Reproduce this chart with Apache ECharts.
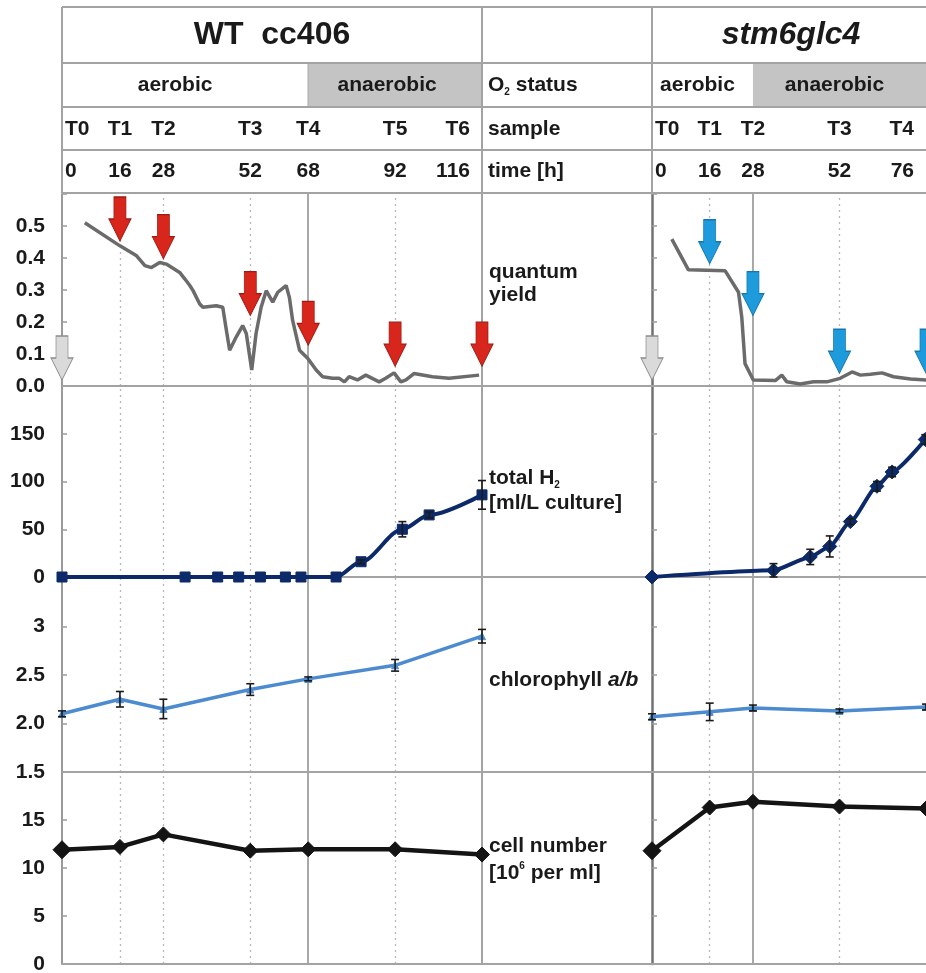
<!DOCTYPE html>
<html><head><meta charset="utf-8">
<script src="https://cdn.jsdelivr.net/npm/echarts@6/dist/echarts.min.js"></script>
<style>html,body{margin:0;padding:0;background:#fff}#c{width:926px;height:973px}</style>
</head><body><div id="c"></div>
<script>
// ---------- data ----------
const wtTimes = [0, 16, 28, 52, 68, 92, 116];
const wtSamples = ['T0', 'T1', 'T2', 'T3', 'T4', 'T5', 'T6'];
const stmTimes = [0, 16, 28, 52, 76];
const stmSamples = ['T0', 'T1', 'T2', 'T3', 'T4'];
const wtAnaerobicStart = 68;
const stmAnaerobicStart = 28;
const wtDotted = [16, 28, 52, 92];
const stmDotted = [16, 52];

const qyTicks = ['0.0', '0.1', '0.2', '0.3', '0.4', '0.5', ''];
const h2Ticks = ['0', '50', '100', '150', ''];
const chlTicks = ['1.5', '2.0', '2.5', '3', ''];
const cellTicks = ['0', '5', '10', '15', ''];

const wtQY = [[6.3,0.51],[16,0.438],[20.6,0.407],[22.9,0.376],[24.7,0.37],[27,0.386],[28.8,0.381],[32.5,0.355],[33.9,0.335],[35.3,0.314],[36.2,0.298],[38,0.257],[38.9,0.246],[42.6,0.251],[44.4,0.246],[45.4,0.174],[46.3,0.112],[48.1,0.153],[49.9,0.189],[50.9,0.164],[52.4,0.05],[53.6,0.164],[55,0.246],[56.4,0.298],[58.2,0.262],[59.6,0.293],[61.9,0.314],[62.8,0.277],[63.7,0.205],[65.6,0.112],[67.9,0.086],[70.2,0.05],[72,0.029],[74.7,0.024],[76.6,0.024],[78,0.013],[79.3,0.029],[81.6,0.019],[83.9,0.034],[87.6,0.013],[89.4,0.024],[91.7,0.041],[93.6,0.013],[95,0.019],[97.2,0.039],[102.3,0.029],[106.9,0.024],[115.2,0.034]];
const stmQY = [[5.5,0.459],[10.1,0.363],[20.3,0.36],[24,0.293],[24.9,0.215],[25.8,0.07],[28.1,0.019],[34.2,0.017],[36,0.034],[37.4,0.013],[41.1,0.006],[44.8,0.013],[48.5,0.013],[52.2,0.024],[55.5,0.044],[57.8,0.034],[60.6,0.037],[63.8,0.041],[67,0.029],[71.7,0.022],[76.1,0.019]];

const wtArrowTips = [[16,0.453],[28,0.398],[52,0.22],[68,0.127],[92,0.062],[116,0.062]];
const stmArrowTips = [[16,0.382],[28,0.22],[52,0.04],[76,0.04]];
const wtStartArrow = [[0,0.019]];
const stmStartArrow = [[0,0.019]];

const wtH2 = [[0,0],[34,0],[43,0],[48.8,0],[54.8,0],[61.7,0],[66,0],[75.7,0],[82.6,16],[94,50],[101.4,65],[116,86]];
const wtH2Err = [0,0,0,0,0,0,0,0,2,8,3,15];
const stmH2 = [[0,0],[33.7,7],[43.9,21],[49.3,32],[55,58],[62.4,95],[66.6,110],[75.8,144]];
const stmH2Err = [0,7,8,11,3,5,5,5];

const wtChl = [[0,2.1],[16,2.25],[28,2.15],[52,2.35],[68,2.46],[92,2.6],[116,2.9]];
const wtChlErr = [0.03,0.08,0.1,0.06,0.02,0.06,0.07];
const stmChl = [[0,2.07],[16,2.12],[28,2.16],[52,2.13],[76,2.17]];
const stmChlErr = [0.03,0.09,0.03,0.02,0.03];

const wtCell = [[0,11.9],[16,12.2],[28,13.5],[52,11.8],[68,11.95],[92,11.95],[116,11.4]];
const stmCell = [[0,11.8],[16,16.3],[28,16.9],[52,16.4],[76,16.2]];

// ---------- layout ----------
const FONT = '"Liberation Sans", Arial, Helvetica, sans-serif';
const rowTops = [194, 386, 578, 772];
const rowHeights = [192, 191, 194, 192];
const cols = [{ left: 62, width: 420, max: 116 }, { left: 652, width: 274, max: 76 }];
const yCfg = [
  { min: 0, max: 0.6, interval: 0.1, labels: qyTicks },
  { min: 0, max: 200, interval: 50, labels: h2Ticks },
  { min: 1.5, max: 3.5, interval: 0.5, labels: chlTicks },
  { min: 0, max: 20, interval: 5, labels: cellTicks }
];
const idx = (c, r) => c * 4 + r;

const grids = [], xAxes = [], yAxes = [];
for (let c = 0; c < 2; c++) for (let r = 0; r < 4; r++) {
  grids.push({ left: cols[c].left, width: cols[c].width, top: rowTops[r], height: rowHeights[r], outerBoundsMode: 'none', containLabel: false });
  xAxes.push({ type: 'value', gridIndex: idx(c, r), min: 0, max: cols[c].max, show: true,
    axisLine: { show: false }, axisTick: { show: false }, axisLabel: { show: false }, splitLine: { show: false } });
  const yc = yCfg[r];
  yAxes.push({ type: 'value', gridIndex: idx(c, r), min: yc.min, max: yc.max, interval: yc.interval,
    axisLine: { show: true, lineStyle: { color: c === 0 ? '#9a9a9a' : '#727272', width: c === 0 ? 2 : 2.5 } },
    axisTick: { show: true, inside: true, length: 5, lineStyle: { color: '#9a9a9a', width: 1.5 } },
    axisLabel: { show: c === 0, margin: 17, fontSize: 21, fontWeight: 'bold', color: '#1a1a1a', fontFamily: FONT,
      formatter: v => yc.labels[Math.round((v - yc.min) / yc.interval)] },
    splitLine: { show: false } });
}

function refSeries(c, r) {
  const dotted = c === 0 ? wtDotted : stmDotted;
  const solid = c === 0 ? wtAnaerobicStart : stmAnaerobicStart;
  const data = dotted.map(t => ({ xAxis: t, lineStyle: { type: [2, 4], color: '#b8b8b8', width: 1.3 } }));
  data.push({ xAxis: solid, lineStyle: { type: 'solid', color: '#8c8c8c', width: 1.5 } });
  return { type: 'line', xAxisIndex: idx(c, r), yAxisIndex: idx(c, r), data: [], z: 1, silent: true,
    markLine: { z: 1, silent: true, symbol: 'none', label: { show: false }, animation: false, data } };
}

function errSeries(c, r, vals, errs, w) {
  return { type: 'custom', xAxisIndex: idx(c, r), yAxisIndex: idx(c, r), z: 4, silent: true,
    data: vals.map((p, i) => [p[0], p[1] - errs[i], p[1] + errs[i]]).filter((d, i) => errs[i] > 0),
    renderItem: (params, api) => {
      const lo = api.coord([api.value(0), api.value(1)]);
      const hi = api.coord([api.value(0), api.value(2)]);
      const st = { stroke: '#1a1a1a', lineWidth: 1.6 };
      return { type: 'group', children: [
        { type: 'line', shape: { x1: lo[0], y1: lo[1], x2: hi[0], y2: hi[1] }, style: st },
        { type: 'line', shape: { x1: lo[0] - w, y1: lo[1], x2: lo[0] + w, y2: lo[1] }, style: st },
        { type: 'line', shape: { x1: hi[0] - w, y1: hi[1], x2: hi[0] + w, y2: hi[1] }, style: st }
      ] };
    } };
}

const ARROW = 'path://M5,0L17,0L17,22L22,22L11,44L0,22L5,22Z';
function arrowSeries(c, data, color, border) {
  return { type: 'scatter', xAxisIndex: idx(c, 0), yAxisIndex: idx(c, 0), data, z: 6, silent: true,
    symbol: ARROW, symbolSize: [22, 44], symbolOffset: [0, '-50%'], clip: false,
    itemStyle: { color, borderColor: border, borderWidth: 1, opacity: 1 } };
}

function lineSeries(c, r, data, color, width, symbol, size, extra) {
  return Object.assign({ type: 'line', xAxisIndex: idx(c, r), yAxisIndex: idx(c, r), data, z: 3,
    symbol, symbolSize: size, showSymbol: symbol !== 'none', silent: true,
    lineStyle: { color, width }, itemStyle: { color, borderColor: color, borderWidth: 1, opacity: 1 } }, extra || {});
}

const series = [];
for (let c = 0; c < 2; c++) for (let r = 0; r < 4; r++) series.push(refSeries(c, r));
series.push(lineSeries(0, 0, wtQY, '#6b6b6b', 3.5, 'none', 0));
series.push(lineSeries(1, 0, stmQY, '#6b6b6b', 3.5, 'none', 0));
series.push(arrowSeries(0, wtArrowTips, '#d9261c', '#9c1a12'));
series.push(arrowSeries(1, stmArrowTips, '#1d9bdc', '#1677ad'));
series.push(arrowSeries(0, wtStartArrow, '#dadada', '#8c8c8c'));
series.push(arrowSeries(1, stmStartArrow, '#dadada', '#8c8c8c'));
series.push(lineSeries(0, 1, wtH2, '#0c2a6a', 4, 'rect', 10, { smooth: 0.3, smoothMonotone: 'x' }));
series.push(errSeries(0, 1, wtH2, wtH2Err, 4));
series.push(lineSeries(1, 1, stmH2, '#0c2a6a', 4, 'diamond', 14, { smooth: 0.2, smoothMonotone: 'x' }));
series.push(errSeries(1, 1, stmH2, stmH2Err, 4));
series.push(lineSeries(0, 2, wtChl, '#4c8bcf', 3.5, 'triangle', 7));
series.push(errSeries(0, 2, wtChl, wtChlErr, 4));
series.push(lineSeries(1, 2, stmChl, '#4c8bcf', 3.5, 'triangle', 7));
series.push(errSeries(1, 2, stmChl, stmChlErr, 4));
series.push(lineSeries(0, 3, wtCell, '#141414', 4.5, 'diamond', (v, p) => p.dataIndex === 0 ? 18 : 15));
series.push(lineSeries(1, 3, stmCell, '#141414', 4.5, 'diamond', (v, p) => p.dataIndex === 0 ? 18 : 15));

const chart = echarts.init(document.getElementById('c'), null, { renderer: 'canvas' });
chart.setOption({ animation: false, backgroundColor: '#fff', textStyle: { fontFamily: FONT },
  grid: grids, xAxis: xAxes, yAxis: yAxes, series });

// ---------- table / header graphics ----------
const px = (c, t) => chart.convertToPixel({ xAxisIndex: idx(c, 0) }, t);
const L = 62, R = 926, MID = 482, S = 652;
const headY = [7, 63, 107, 150, 193];
const bottom = rowTops[3] + rowHeights[3];
const LC = '#a3a3a3';
const g = [];
const line = (x1, y1, x2, y2, stroke, w, z) => g.push({ type: 'line', z: z || 1, silent: true, shape: { x1, y1, x2, y2 }, style: { stroke, lineWidth: w } });
const txt = (x, y, text, opt) => g.push({ type: 'text', z: 8, silent: true, x, y,
  style: Object.assign({ text, fill: '#1a1a1a', font: 'bold 21px ' + FONT, textAlign: 'left', textVerticalAlign: 'middle' }, opt || {}) });

// anaerobic fills
const wtAn = px(0, wtAnaerobicStart), stmAn = px(1, stmAnaerobicStart);
g.push({ type: 'rect', z: 0, silent: true, shape: { x: wtAn, y: headY[1], width: MID - wtAn, height: headY[2] - headY[1] }, style: { fill: '#c4c4c4' } });
g.push({ type: 'rect', z: 0, silent: true, shape: { x: stmAn, y: headY[1], width: R - stmAn, height: headY[2] - headY[1] }, style: { fill: '#c4c4c4' } });
line(wtAn, headY[1], wtAn, headY[2], '#b5b5b5', 1.5);
// horizontal lines
headY.forEach(y => line(L, y, R, y, LC, 2));
rowTops.forEach((t, r) => line(L, t + rowHeights[r], R, t + rowHeights[r], LC, 2.2));
// vertical lines
line(L, headY[0], L, headY[4], LC, 2);
line(MID, headY[0], MID, bottom, LC, 2);
line(S, headY[0], S, headY[4], LC, 2);

// titles
txt((L + MID) / 2, 35, 'WT  cc406', { font: 'bold 32px ' + FONT, textAlign: 'center' });
txt(791, 35, 'stm6glc4', { font: 'italic bold 32px ' + FONT, textAlign: 'center' });
// O2 status row
const rowC = [85, 129, 171];
txt((L + wtAn) / 2 - 10, rowC[0], 'aerobic', { textAlign: 'center' });
txt((wtAn + MID) / 2 - 8, rowC[0], 'anaerobic', { textAlign: 'center' });
txt((S + stmAn) / 2 - 5, rowC[0], 'aerobic', { textAlign: 'center' });
txt((stmAn + R) / 2 - 5, rowC[0], 'anaerobic', { textAlign: 'center' });
g.push({ type: 'text', z: 8, silent: true, x: 488, y: rowC[0], style: { textVerticalAlign: 'middle', textAlign: 'left',
  text: '{a|O}{s|2}{a| status}', rich: { a: { font: 'bold 21px ' + FONT, fill: '#1a1a1a', lineHeight: 24 },
    s: { font: 'bold 10px ' + FONT, fill: '#1a1a1a', lineHeight: 12, verticalAlign: 'bottom' } } } });
txt(488, rowC[1], 'sample');
txt(488, rowC[2], 'time [h]');
// sample / time labels from arrays
function axisRow(c, times, labels, y) {
  times.forEach((t, i) => {
    const x = px(c, t);
    let align = 'center', xx = x;
    if (i === 0) { align = 'left'; xx = x + 3; }
    else if (i === times.length - 1) { align = 'right'; xx = x - 12; }
    txt(xx, y, String(labels[i]), { textAlign: align });
  });
}
axisRow(0, wtTimes, wtSamples, rowC[1]);
axisRow(0, wtTimes, wtTimes, rowC[2]);
axisRow(1, stmTimes, stmSamples, rowC[1]);
axisRow(1, stmTimes, stmTimes, rowC[2]);

// panel labels
txt(489, 272, 'quantum');
txt(489, 295, 'yield');
g.push({ type: 'text', z: 8, silent: true, x: 489, y: 478, style: { textVerticalAlign: 'middle', textAlign: 'left',
  text: '{a|total H}{s|2}', rich: { a: { font: 'bold 21px ' + FONT, fill: '#1a1a1a', lineHeight: 24 },
    s: { font: 'bold 10px ' + FONT, fill: '#1a1a1a', lineHeight: 12, verticalAlign: 'bottom' } } } });
txt(489, 503, '[ml/L culture]');
g.push({ type: 'text', z: 8, silent: true, x: 489, y: 680, style: { textVerticalAlign: 'middle', textAlign: 'left',
  text: '{a|chlorophyll }{i|a/b}', rich: { a: { font: 'bold 21px ' + FONT, fill: '#1a1a1a' },
    i: { font: 'italic bold 21px ' + FONT, fill: '#1a1a1a' } } } });
txt(489, 846, 'cell number');
g.push({ type: 'text', z: 8, silent: true, x: 489, y: 873, style: { textVerticalAlign: 'middle', textAlign: 'left',
  text: '{a|[10}{s|6}{a| per ml]}', rich: { a: { font: 'bold 21px ' + FONT, fill: '#1a1a1a', lineHeight: 24 },
    s: { font: 'bold 10px ' + FONT, fill: '#1a1a1a', lineHeight: 12, verticalAlign: 'top' } } } });

chart.setOption({ graphic: { elements: g } });
</script></body></html>
